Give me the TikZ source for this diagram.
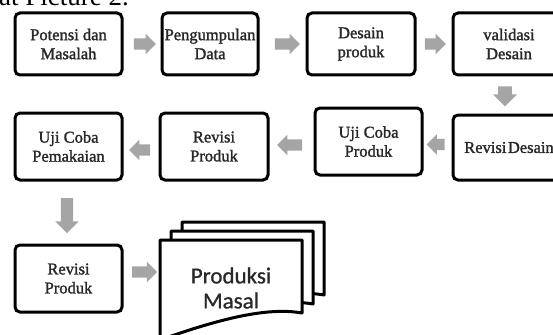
\documentclass[tikz,border=0pt]{standalone}
\usepackage{fontspec}
\setmainfont{Liberation Serif}
\newfontfamily\stepfont[FakeBold=1.5]{Liberation Serif}
\newfontfamily\docfont[FakeBold=0.8]{Carlito}
\usetikzlibrary{shapes.arrows,calc}
\definecolor{arrowgray}{RGB}{165,165,165}
\definecolor{inkgray}{RGB}{40,40,40}

\begin{document}
\begin{tikzpicture}[x=1pt,y=-1pt,
  stepbox/.style={draw=black, line width=3pt, rounded corners=5pt, fill=white,
    align=center, inner sep=0pt, text=inkgray,
    font=\stepfont\fontsize{16.5}{19}\selectfont,
    minimum width=107pt, minimum height=64pt},
  blockarrow/.style={single arrow, fill=arrowgray, draw=none,
    inner xsep=0pt, inner ysep=5.5pt,
    single arrow head extend=4.5pt, minimum width=20pt},
  downarrow/.style={blockarrow, shape border rotate=270,
    inner ysep=0pt, inner xsep=6.5pt},
  pagesheet/.style={draw=black, line width=3pt, fill=white, line join=round}]

\useasboundingbox (0,0) rectangle (553,334);
\clip (0,0) rectangle (553,334);

% caption line running into the top edge
\node[anchor=base west, inner sep=0pt, font=\fontsize{27}{30}\selectfont] (caption) at (-1,5.5) {at Picture 2.};

% first row
\node[stepbox, minimum height=62pt] (potensi) at (68.5,44) {Potensi dan\\Masalah};
\node[stepbox, minimum width=96pt, minimum height=62pt] (data) at (210,44) {Pengumpulan\\Data};
\node[stepbox, minimum width=108pt, minimum height=62pt] (desain) at (361,44) {Desain\\produk};
\node[stepbox, minimum width=112pt, minimum height=62pt] (validasi) at (509,44) {validasi\\Desain};

% second row
\node[stepbox, minimum height=67pt] (pemakaian) at (68.5,146.5) {Uji Coba\\Pemakaian};
\node[stepbox, minimum width=108pt, minimum height=67pt] (revproduk) at (214,146.5) {Revisi\\Produk};
\node[stepbox, minimum height=67pt] (ujiproduk) at (368.5,141.5) {Uji Coba\\Produk};
\node[stepbox, minimum width=112pt, minimum height=65pt] (revdesain) at (509,147.5) {Revisi\hspace{1.5pt}Desain};

% third row
\node[stepbox, minimum height=67pt] (revproduk2) at (68.5,278.5) {Revisi\\Produk};

% stacked document sheets
\coordinate (docL) at (160,272);
\foreach \k in {2,1,0}{
  \begin{scope}[shift={(11*\k,-9*\k)}]
    \draw[pagesheet] (160,240) -- (302,240) -- (302,313)
      .. controls (268,307) and (222,318) .. (160,340) -- cycle;
  \end{scope}
}
\node[align=center, inner sep=0pt, text=inkgray, font=\docfont\fontsize{23}{25}\selectfont] (masal) at (231,288) {Produksi\\Masal};

% block arrows between the steps
\node[blockarrow, minimum height=22pt] (a1) at ($(potensi.east)!0.5!(data.west)$) {};
\node[blockarrow, minimum height=25pt] (a2) at ($(data.east)!0.5!(desain.west)+(2,0)$) {};
\node[blockarrow, minimum height=21pt] (a3) at ($(desain.east)!0.5!(validasi.west)+(-1.5,0)$) {};
\node[downarrow, minimum height=20pt, minimum width=24pt, single arrow head extend=5pt] (a4) at ($(validasi.south)!0.5!(revdesain.north)+(-4,-2)$) {};
\node[blockarrow, minimum height=18pt, shape border rotate=180] (a5) at ($(revdesain.west)!0.5!(ujiproduk.east)+(1,0)$) {};
\node[blockarrow, minimum height=25pt, shape border rotate=180] (a6) at ($(ujiproduk.west)!0.5!(revproduk.east)+(1,1)$) {};
\node[blockarrow, minimum height=21pt, shape border rotate=180] (a7) at ($(revproduk.west)!0.5!(pemakaian.east)+(1.5,3.5)$) {};
\node[downarrow, minimum height=35pt, minimum width=23pt, inner xsep=6pt, single arrow head extend=5.5pt] (a8) at ($(pemakaian.south)!0.5!(revproduk2.north)+(-1.5,0)$) {};
\node[blockarrow, minimum height=25pt] (a9) at ($(revproduk2.east |- docL)!0.5!(docL)$) {};

\end{tikzpicture}
\end{document}
